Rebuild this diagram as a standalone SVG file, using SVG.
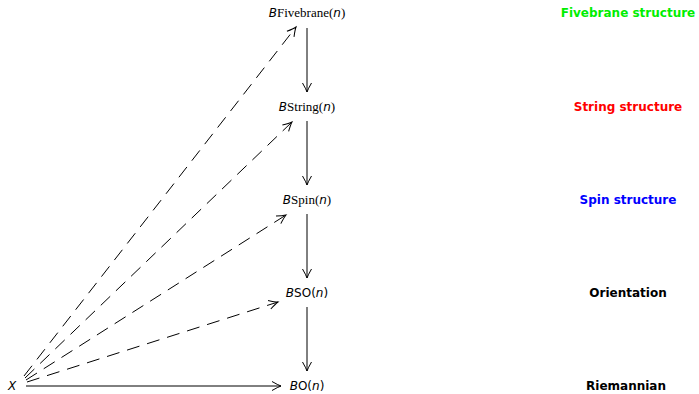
<svg xmlns="http://www.w3.org/2000/svg" width="699" height="394" viewBox="0 0 699 394">
<style>
.n{font-family:"Liberation Serif",serif;font-size:13px;fill:#000}
.s{font-family:"DejaVu Sans","Liberation Sans",sans-serif;font-size:12px}
.i{font-style:italic}
.lab{font-family:"DejaVu Sans",sans-serif;font-weight:bold;font-size:12px;text-anchor:middle}
.e{stroke:#000;stroke-width:1;fill:none}
.d{stroke-dasharray:13 8}
</style>
<defs>
<marker id="ah" viewBox="-10 -6 12 12" markerWidth="12" markerHeight="12" refX="0" refY="0" orient="auto" markerUnits="userSpaceOnUse">
<path d="M-9,-4.5 Q-3,-1 0,0 Q-3,1 -9,4.5" fill="none" stroke="#000" stroke-width="1"/>
</marker>
</defs>
<g id="connectors">
<line class="e" x1="307" y1="28" x2="307" y2="92" marker-end="url(#ah)"/>
<line class="e" x1="307" y1="121" x2="307" y2="185" marker-end="url(#ah)"/>
<line class="e" x1="307" y1="214" x2="307" y2="278" marker-end="url(#ah)"/>
<line class="e" x1="307" y1="307" x2="307" y2="371" marker-end="url(#ah)"/>
<line class="e" x1="26" y1="386" x2="281" y2="386" marker-end="url(#ah)"/>
<line class="e d" x1="24" y1="376" x2="296" y2="27" marker-end="url(#ah)"/>
<line class="e d" x1="25" y1="378" x2="292" y2="122" marker-end="url(#ah)"/>
<line class="e d" x1="26" y1="380" x2="286" y2="215" marker-end="url(#ah)"/>
<line class="e d" x1="27" y1="382" x2="278" y2="302" marker-end="url(#ah)"/>
</g>
<g id="node-fivebrane"><text class="n" x="307" y="17" text-anchor="middle"><tspan class="s i">B</tspan>Fivebrane(<tspan class="s i">n</tspan>)</text></g>
<g id="node-string"><text class="n" x="307" y="111" text-anchor="middle"><tspan class="s i">B</tspan>String(<tspan class="s i">n</tspan>)</text></g>
<g id="node-spin"><text class="n" x="307" y="204" text-anchor="middle"><tspan class="s i">B</tspan>Spin(<tspan class="s i">n</tspan>)</text></g>
<g id="node-so"><text class="n" x="307" y="297" text-anchor="middle"><tspan class="s i">B</tspan><tspan class="s">SO(</tspan><tspan class="s i">n</tspan><tspan class="s">)</tspan></text></g>
<g id="node-o"><text class="n" x="307" y="390" text-anchor="middle"><tspan class="s i">B</tspan><tspan class="s">O(</tspan><tspan class="s i">n</tspan><tspan class="s">)</tspan></text></g>
<g id="node-x"><text class="s i" x="12" y="390" text-anchor="middle">X</text></g>
<g id="labels">
<text class="lab" x="628" y="17" fill="#00ee00">Fivebrane structure</text>
<text class="lab" x="628" y="111" fill="#ff0000">String structure</text>
<text class="lab" x="628" y="204" fill="#0000ff">Spin structure</text>
<text class="lab" x="628" y="297" fill="#000">Orientation</text>
<text class="lab" x="626" y="390" fill="#000">Riemannian</text>
</g>
</svg>
